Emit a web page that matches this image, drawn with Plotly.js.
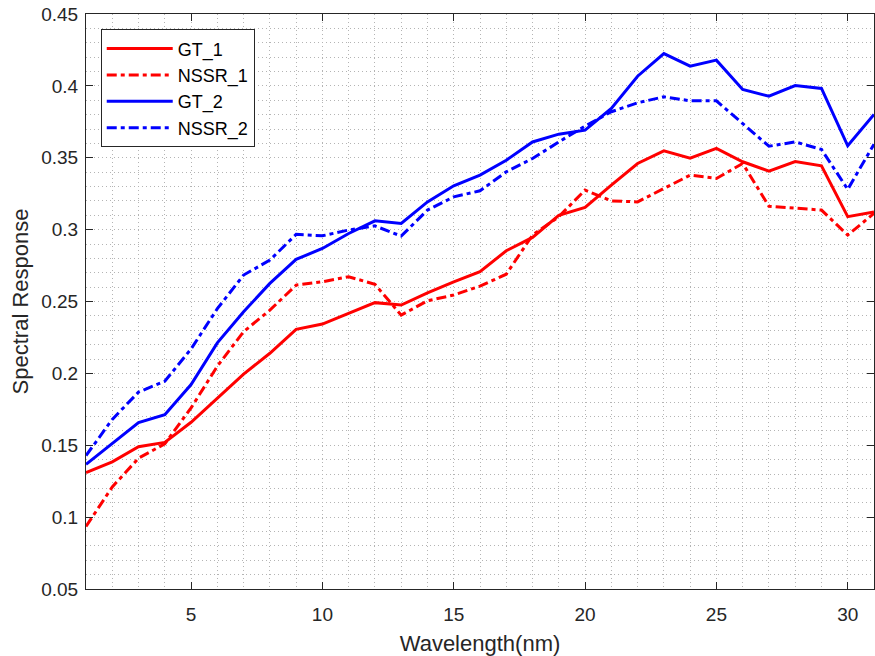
<!DOCTYPE html>
<html>
<head>
<meta charset="utf-8">
<script src="https://cdn.plot.ly/plotly-3.0.1.min.js"></script>
<style>
  html, body { margin: 0; padding: 0; background: #fff; }
  #plot { width: 875px; height: 656px; }
</style>
</head>
<body>
<div id="plot"></div>
<script>
// wavelength index 1..31
const wavelength = [1, 2, 3, 4, 5, 6, 7, 8, 9, 10, 11, 12, 13, 14, 15, 16,
                    17, 18, 19, 20, 21, 22, 23, 24, 25, 26, 27, 28, 29, 30, 31];

const gt1 = [0.131, 0.1385, 0.149, 0.152, 0.166, 0.183, 0.1995, 0.214, 0.2306, 0.2343,
             0.2418, 0.2492, 0.2475, 0.256, 0.2637, 0.2707, 0.2853, 0.2946, 0.310, 0.3154,
             0.331, 0.346, 0.3548, 0.3497, 0.3565, 0.3472, 0.3407, 0.3474, 0.3444, 0.309, 0.3122];

const nssr1 = [0.0935, 0.121, 0.141, 0.151, 0.176, 0.205, 0.229, 0.244, 0.2614, 0.2637,
               0.2672, 0.262, 0.2405, 0.2505, 0.2545, 0.2607, 0.269, 0.2962, 0.309, 0.3275,
               0.320, 0.3193, 0.3286, 0.3379, 0.3356, 0.346, 0.3163, 0.3147, 0.3136, 0.2962, 0.3113];

const gt2 = [0.1367, 0.151, 0.1657, 0.1712, 0.1922, 0.2212, 0.2429, 0.2626, 0.2793, 0.2869,
             0.2973, 0.3061, 0.3043, 0.3193, 0.3305, 0.3379, 0.3483, 0.361, 0.3664, 0.3692,
             0.3843, 0.4067, 0.4225, 0.4137, 0.4179, 0.3975, 0.3928, 0.4002, 0.3982, 0.3583, 0.3801];

const nssr2 = [0.1428, 0.168, 0.187, 0.1945, 0.217, 0.245, 0.2684, 0.2788, 0.2967, 0.2957,
               0.2997, 0.3026, 0.2955, 0.3136, 0.3228, 0.327, 0.3402, 0.3495, 0.361, 0.372,
               0.382, 0.3882, 0.3924, 0.3896, 0.3896, 0.3738, 0.358, 0.361, 0.3558, 0.328, 0.3594];

const yTicks = [0.05, 0.1, 0.15, 0.2, 0.25, 0.3, 0.35, 0.4, 0.45];
const yTickText = ['0.05', '0.1', '0.15', '0.2', '0.25', '0.3', '0.35', '0.4', '0.45'];
const xTicks = [5, 10, 15, 20, 25, 30];

const RED = '#ff0000';
const BLUE = '#0000ff';
const DASHDOT = '10px,4px,4px,4px';
const AXIS = '#262626';
const GRID = '#b4b4b4';
const GRIDDASH = '1px,3px';
const FONT = 'Liberation Sans, Arial, sans-serif';

function trace(name, y, color, dash) {
    return {
        x: wavelength,
        y: y,
        name: name,
        type: 'scatter',
        mode: 'lines',
        line: { color: color, width: 3, dash: dash },
    };
}

const data = [
    trace('GT_1', gt1, RED, 'solid'),
    trace('NSSR_1', nssr1, RED, DASHDOT),
    trace('GT_2', gt2, BLUE, 'solid'),
    trace('NSSR_2', nssr2, BLUE, DASHDOT),
];

const layout = {
    width: 875,
    height: 656,
    margin: { l: 86, r: 1, t: 14, b: 67 },
    paper_bgcolor: '#ffffff',
    plot_bgcolor: '#ffffff',
    font: { family: FONT, color: AXIS, size: 19 },
    showlegend: true,
    legend: {
        x: 0.0187, y: 0.9734, xanchor: 'left', yanchor: 'top',
        bgcolor: '#ffffff', bordercolor: AXIS, borderwidth: 1,
        font: { family: FONT, size: 18, color: '#000000' },
        itemwidth: 66,
        tracegroupgap: 0,
    },
    xaxis: {
        range: [1, 31],
        tickvals: xTicks,
        ticks: 'inside', ticklen: 7, tickcolor: AXIS, tickwidth: 1,
        ticklabelstandoff: 8,
        showline: true, linecolor: AXIS, linewidth: 1, mirror: 'ticks',
        showgrid: true, gridcolor: GRID, griddash: GRIDDASH, gridwidth: 1,
        minor: { dtick: 1, showgrid: true, gridcolor: GRID, griddash: GRIDDASH, gridwidth: 1, ticks: '' },
        zeroline: false,
        tickfont: { family: FONT, size: 19, color: AXIS },
        title: { text: 'Wavelength(nm)', font: { family: FONT, size: 22, color: AXIS }, standoff: 12 },
    },
    yaxis: {
        range: [0.05, 0.45],
        tickvals: yTicks,
        ticktext: yTickText,
        ticks: 'inside', ticklen: 7, tickcolor: AXIS, tickwidth: 1,
        ticklabelstandoff: 3,
        showline: true, linecolor: AXIS, linewidth: 1, mirror: 'ticks',
        showgrid: true, gridcolor: GRID, griddash: GRIDDASH, gridwidth: 1,
        minor: { dtick: 0.01, showgrid: true, gridcolor: GRID, griddash: GRIDDASH, gridwidth: 1, ticks: '' },
        zeroline: false,
        tickfont: { family: FONT, size: 19, color: AXIS },
        title: { text: 'Spectral Response', font: { family: FONT, size: 22, color: AXIS }, standoff: 6 },
    },
};

Plotly.newPlot('plot', data, layout, { staticPlot: true, displayModeBar: false });
</script>
</body>
</html>
